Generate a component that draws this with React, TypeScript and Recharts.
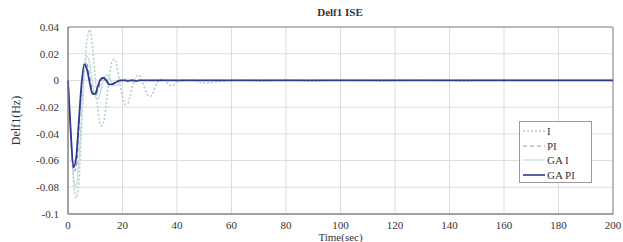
import { LineChart, Line, XAxis, YAxis, CartesianGrid, ReferenceArea } from "recharts";

// time (sec)
const time = [
  0, 1, 2, 3, 4, 5, 6, 7, 8, 9, 10, 11, 12, 13, 14, 15, 16, 17, 18, 19, 20,
  21, 22, 23, 24, 25, 26, 27, 28, 29, 30, 31, 32, 33, 34, 35, 36, 37, 38, 39, 40,
  45, 50, 55, 60, 65, 70, 75, 80, 85, 90, 95, 100, 105, 110, 115, 120, 125, 130,
  135, 140, 145, 150, 155, 160, 165, 170, 175, 180, 185, 190, 195, 200,
];

const seriesI = [
  0, -0.04, -0.075, -0.088, -0.076, -0.036, 0.004, 0.031, 0.038, 0.025, 0.002,
  -0.022, -0.034, -0.032, -0.018, 0, 0.013, 0.016, 0.01, -0.002, -0.012,
  -0.018, -0.017, -0.01, -0.002, 0.003, 0.004, 0.001, -0.005, -0.01, -0.012,
  -0.01, -0.005, -0.001, 0.001, 0.001, -0.001, -0.003, -0.004, -0.003, -0.001,
  0.0005, -0.002, -0.001, 0, 0.0005, -0.0005, 0, 0.0005, 0, -0.0005, 0, 0.0005, 0,
  0, -0.0005, 0, 0, 0.0005, 0, 0, -0.0005, 0, 0, 0, 0, 0, 0, 0, 0, 0, 0, 0,
];

const seriesPI = [
  0, -0.04, -0.068, -0.066, -0.036, -0.004, 0.013, 0.012, 0.002, -0.008, -0.011,
  -0.007, -0.001, 0.002, 0.001, -0.002, -0.003, -0.002, -0.001, 0, 0,
  0, -0.0005, 0, 0, 0, 0, 0, 0, 0, 0, 0, 0, 0, 0, 0, 0, 0, 0, 0, 0,
  0, 0, 0, 0, 0, 0, 0, 0, 0, 0, 0, 0, 0, 0, 0, 0, 0, 0, 0, 0, 0, 0, 0, 0, 0, 0, 0, 0, 0, 0, 0, 0,
];

const seriesGAI = [
  0, -0.04, -0.072, -0.08, -0.06, -0.025, 0.008, 0.018, 0.012, -0.002, -0.012,
  -0.014, -0.008, 0, 0.004, 0.003, -0.001, -0.004, -0.004, -0.002, 0,
  0.001, 0.001, 0, -0.001, -0.001, 0, 0, 0, 0, 0, 0, 0, 0, 0, 0, 0, 0, 0, 0, 0,
  0, 0, 0, 0, 0, 0, 0, 0, 0, 0, 0, 0, 0, 0, 0, 0, 0, 0, 0, 0, 0, 0, 0, 0, 0, 0, 0, 0, 0, 0, 0, 0,
];

const seriesGAPI = [
  0, -0.038, -0.065, -0.058, -0.03, -0.002, 0.012, 0.008, -0.002, -0.01, -0.01,
  -0.004, 0.001, 0.002, 0, -0.003, -0.003, -0.002, -0.001, 0, 0,
  0, -0.0005, 0, 0, -0.0005, 0, 0, 0, 0, 0, 0, 0, 0, 0, 0, 0, 0, 0, 0, 0,
  0, 0, 0, 0, 0, 0, 0, 0, 0, 0, 0, 0, 0, 0, 0, 0, 0, 0, 0, 0, 0, 0, 0, 0, 0, 0, 0, 0, 0, 0, 0, 0,
];

const xTicks = [0, 20, 40, 60, 80, 100, 120, 140, 160, 180, 200];
const yTicks = [0.04, 0.02, 0, -0.02, -0.04, -0.06, -0.08, -0.1];

const data = time.map((t, i) => ({
  t,
  I: seriesI[i],
  PI: seriesPI[i],
  GAI: seriesGAI[i],
  GAPI: seriesGAPI[i],
}));

const font = "'Liberation Serif', 'DejaVu Serif', serif";

const legendItems = [
  { name: "I", color: "#a9cfcc", dash: "2 2", width: 1.5 },
  { name: "PI", color: "#8a93b8", dash: "4 3", width: 1.2 },
  { name: "GA I", color: "#c6d9d6", dash: undefined, width: 1.2 },
  { name: "GA PI", color: "#2e3b8f", dash: undefined, width: 1.6 },
];

function LegendBox() {
  return (
    <div
      style={{
        position: "absolute",
        left: 519,
        top: 121,
        width: 73,
        height: 62,
        border: "1px solid #999",
        background: "#fff",
        boxSizing: "border-box",
        paddingTop: 2,
      }}
    >
      {legendItems.map((it) => (
        <div key={it.name} style={{ display: "flex", alignItems: "center", height: 14.5, lineHeight: "14px" }}>
          <svg width={24} height={6} style={{ marginLeft: 2 }}>
            <line x1={1} x2={23} y1={3} y2={3} stroke={it.color} strokeWidth={it.width} strokeDasharray={it.dash} />
          </svg>
          <span style={{ fontFamily: font, fontSize: 11, color: "#333", marginLeft: 1 }}>{it.name}</span>
        </div>
      ))}
    </div>
  );
}

export default function App() {
  return (
    <div style={{ position: "absolute", left: 0, top: 0, width: 623, height: 242, background: "#fff" }}>
      <LineChart width={623} height={242} data={data} margin={{ top: 27, right: 10, left: 0, bottom: 0 }}>
        <CartesianGrid stroke="#dcdcdc" strokeWidth={1} />
        <XAxis
          dataKey="t"
          type="number"
          domain={[0, 200]}
          ticks={xTicks}
          height={28}
          axisLine={{ stroke: "#888" }}
          tickLine={false}
          tickMargin={1}
          tick={{ fontFamily: font, fontSize: 11, fill: "#333" }}
          label={{ value: "Time(sec)", position: "insideBottom", offset: 1, fontFamily: font, fontSize: 11, fill: "#333" }}
        />
        <YAxis
          type="number"
          domain={[-0.1, 0.04]}
          ticks={yTicks}
          width={68}
          axisLine={{ stroke: "#888" }}
          tickLine={false}
          tickMargin={3}
          tickFormatter={(v: number) => String(Number(v.toFixed(2)))}
          tick={{ fontFamily: font, fontSize: 11, fill: "#333" }}
          label={{ value: "Delf1(Hz)", angle: -90, position: "insideLeft", offset: 16, fontFamily: font, fontSize: 12, fill: "#333", style: { textAnchor: "middle" } }}
        />
        <ReferenceArea x1={0} x2={200} y1={-0.1} y2={0.04} fill="none" stroke="#888" strokeWidth={1} />
        <Line type="monotone" dataKey="I" stroke="#a9cfcc" strokeWidth={1.5} strokeDasharray="2 2" dot={false} isAnimationActive={false} />
        <Line type="monotone" dataKey="GAI" stroke="#c6d9d6" strokeWidth={1.2} dot={false} isAnimationActive={false} />
        <Line type="monotone" dataKey="PI" stroke="#8a93b8" strokeWidth={1.2} strokeDasharray="4 3" dot={false} isAnimationActive={false} />
        <Line type="monotone" dataKey="GAPI" stroke="#2e3b8f" strokeWidth={1.8} dot={false} isAnimationActive={false} />
      </LineChart>
      <div
        style={{
          position: "absolute",
          left: 290,
          width: 100,
          top: 6,
          textAlign: "center",
          fontFamily: font,
          fontSize: 11,
          fontWeight: "bold",
          color: "#333",
        }}
      >
        Delf1 ISE
      </div>
      <LegendBox />
    </div>
  );
}
